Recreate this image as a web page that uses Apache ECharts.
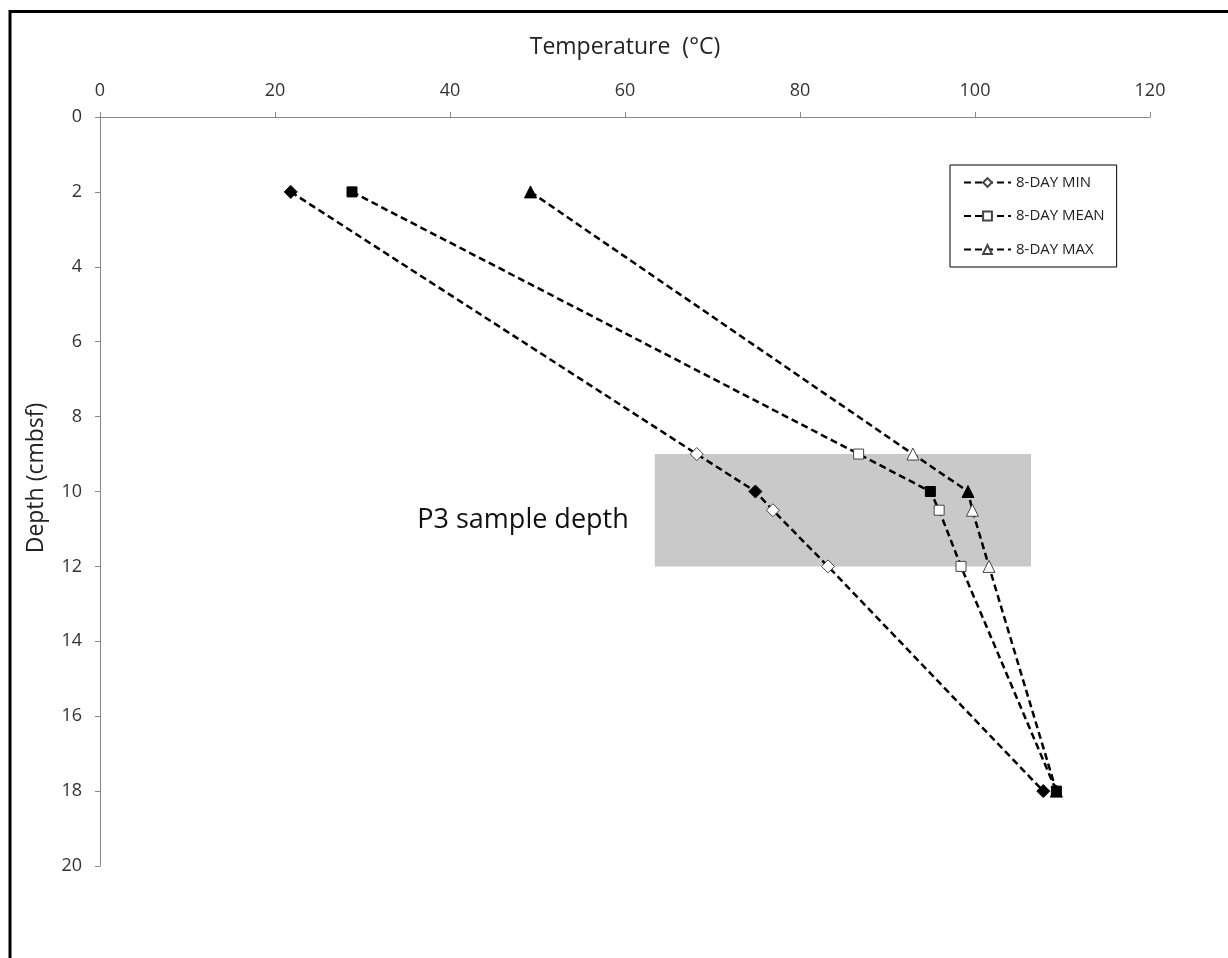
<!DOCTYPE html>
<html>
<head>
<meta charset="utf-8">
<script src="https://cdn.jsdelivr.net/npm/echarts@6/dist/echarts.min.js"></script>
<style>
html,body{margin:0;padding:0;background:#fff;}
#chart{width:1228px;height:958px;}
</style>
</head>
<body>
<div id="chart"></div>
<script>
// ---- data ----
var depths = [2, 9, 10, 10.5, 12, 18];
var minTemp = [21.8, 68.2, 74.9, 76.9, 83.2, 107.8];
var meanTemp = [28.8, 86.7, 94.9, 95.9, 98.4, 109.3];
var maxTemp = [49.2, 92.9, 99.2, 99.7, 101.6, 109.3];
var filledPoint = [true, false, true, false, false, true];
var seriesNames = ['8-DAY MIN', '8-DAY MEAN', '8-DAY MAX'];
var seriesSymbols = ['diamond', 'rect', 'triangle'];
var sampleDepthRange = [9, 12];
var sampleTempRange = [63.4, 106.4];
var sampleLabel = 'P3 sample depth';
var xTicks = [0, 20, 40, 60, 80, 100, 120];
var yTicks = [0, 2, 4, 6, 8, 10, 12, 14, 16, 18, 20];

var FONT = '"Open Sans", "Noto Sans", sans-serif';
var symbolSizes = [13, 10, 12];

function buildSeries(name, temps, symbol, size) {
  return {
    name: name,
    type: 'line',
    symbol: symbol,
    symbolSize: size,
    lineStyle: { color: '#000', width: 2.5, type: [7, 4] },
    itemStyle: { color: '#fff', borderColor: '#444', borderWidth: 1 },
    z: 3,
    data: temps.map(function (t, i) {
      var item = { value: [t, depths[i]] };
      if (filledPoint[i]) {
        item.itemStyle = { color: '#000', borderColor: '#000', borderWidth: 1 };
      }
      return item;
    })
  };
}

var chart = echarts.init(document.getElementById('chart'), null, { renderer: 'canvas' });

var option = {
  backgroundColor: '#fff',
  animation: false,
  textStyle: { fontFamily: FONT },
  grid: { left: 100, right: 78, top: 117, bottom: 92, containLabel: false },
  legend: {
    orient: 'vertical',
    left: 950,
    top: 165,
    data: seriesNames,
    borderColor: '#000',
    borderWidth: 1,
    padding: [10, 12, 10, 13],
    itemGap: 18.5,
    itemWidth: 47,
    itemHeight: 11,
    textStyle: { fontSize: 15, color: '#222', fontFamily: FONT }
  },
  xAxis: {
    type: 'value',
    position: 'top',
    min: 0, max: 120, interval: 20,
    name: 'Temperature  (°C)',
    nameLocation: 'middle',
    nameGap: 58,
    nameTextStyle: { fontSize: 23, color: '#222', fontFamily: FONT },
    axisLine: { show: true, lineStyle: { color: '#888', width: 1 } },
    axisTick: { show: true, inside: false, length: 5, lineStyle: { color: '#888' } },
    axisLabel: {
      fontSize: 18, color: '#333', margin: 17, fontFamily: FONT,
      formatter: function (v) { return xTicks.indexOf(v) >= 0 ? String(v) : ''; }
    },
    splitLine: { show: false }
  },
  yAxis: {
    type: 'value',
    inverse: true,
    min: 0, max: 20, interval: 2,
    name: 'Depth (cmbsf)',
    nameLocation: 'middle',
    nameGap: 52,
    nameRotate: 90,
    nameTextStyle: { fontSize: 23, color: '#222', fontFamily: FONT, padding: [0, 0, 0, 27] },
    axisLine: { show: true, lineStyle: { color: '#888', width: 1 } },
    axisTick: { show: true, inside: false, length: 5, lineStyle: { color: '#888' } },
    axisLabel: {
      fontSize: 18, color: '#333', margin: 18, fontFamily: FONT,
      formatter: function (v) { return yTicks.indexOf(v) >= 0 ? String(v) : ''; }
    },
    splitLine: { show: false }
  },
  graphic: [{
    type: 'rect',
    shape: { x: 10, y: 11.5, width: 1240, height: 980 },
    style: { fill: null, stroke: '#000', lineWidth: 3 },
    silent: true,
    z: 100
  }],
  series: [
    {
      name: 'sample',
      type: 'line',
      data: [],
      silent: true,
      z: 1,
      markArea: {
        silent: true,
        itemStyle: { color: '#c9c9c9' },
        label: {
          show: true,
          position: 'left',
          distance: 26,
          offset: [0, 10],
          fontSize: 27,
          color: '#111',
          fontFamily: FONT,
          formatter: sampleLabel
        },
        data: [[
          { coord: [sampleTempRange[0], sampleDepthRange[0]] },
          { coord: [sampleTempRange[1], sampleDepthRange[1]] }
        ]]
      }
    },
    buildSeries(seriesNames[0], minTemp, seriesSymbols[0], symbolSizes[0]),
    buildSeries(seriesNames[1], meanTemp, seriesSymbols[1], symbolSizes[1]),
    buildSeries(seriesNames[2], maxTemp, seriesSymbols[2], symbolSizes[2])
  ]
};
chart.setOption(option);
</script>
</body>
</html>
